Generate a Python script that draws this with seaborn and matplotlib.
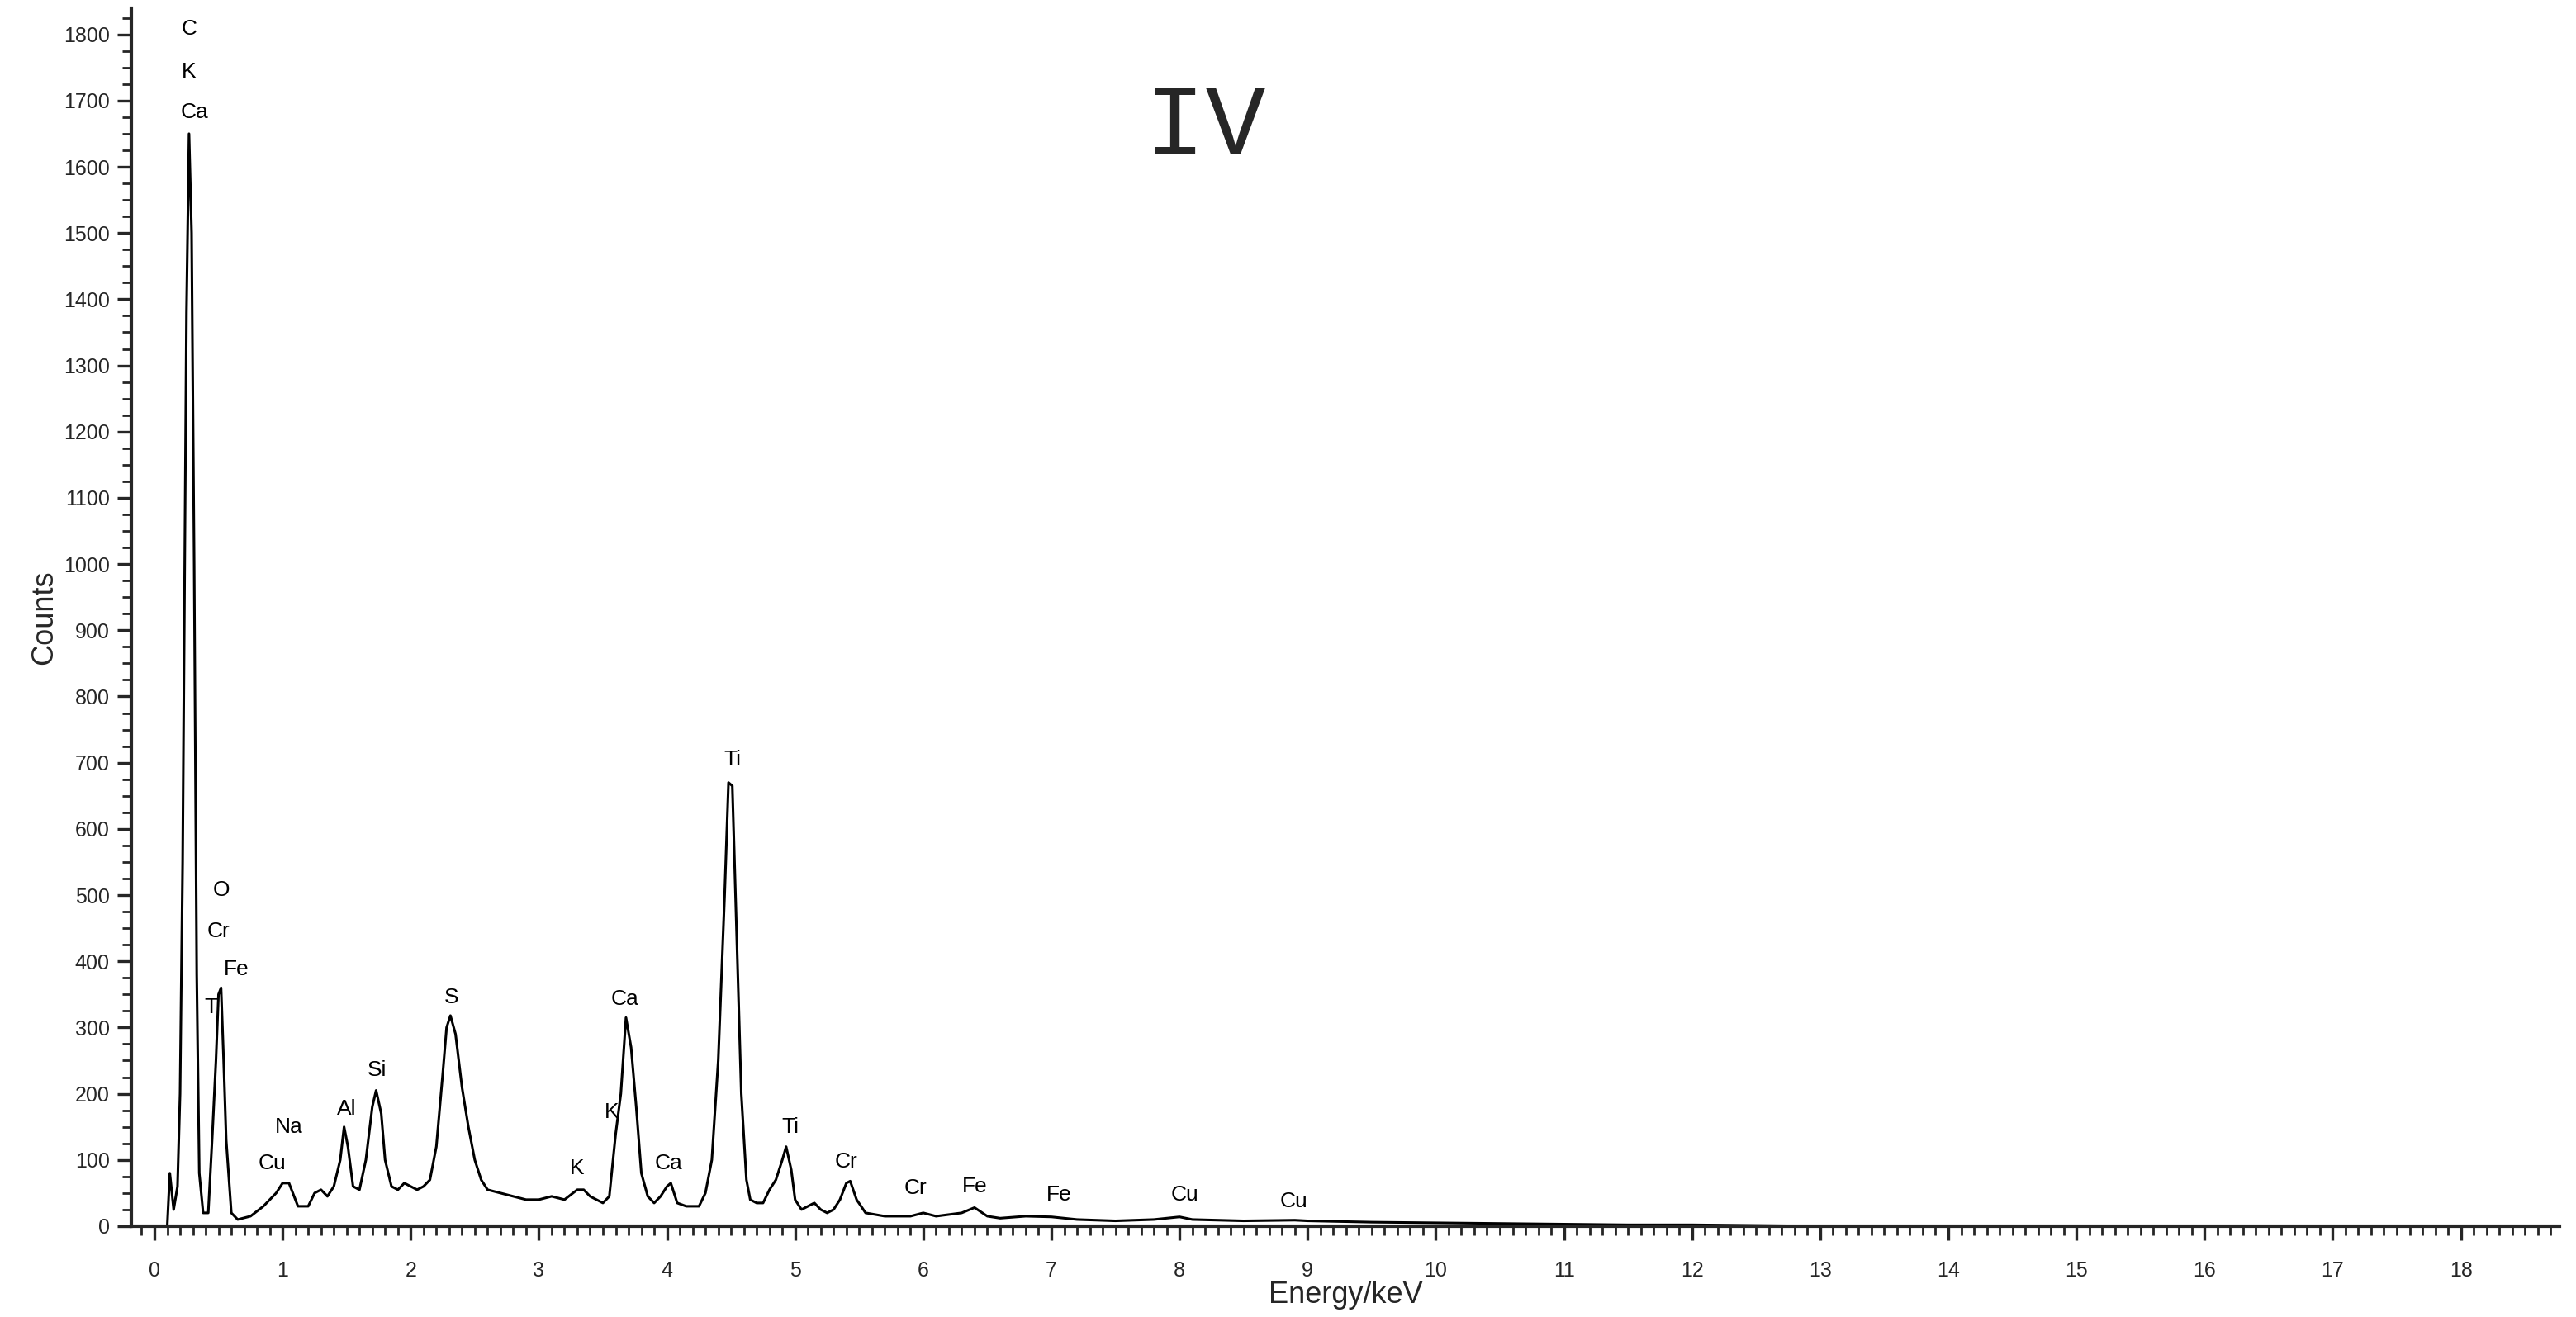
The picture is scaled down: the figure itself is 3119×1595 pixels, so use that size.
import numpy as np
import pandas as pd
import matplotlib
matplotlib.use("Agg")
import matplotlib.pyplot as plt
import seaborn as sns
from matplotlib.ticker import MultipleLocator

# spectrum (keV, counts)
energy = [0.10, 0.12, 0.15, 0.18, 0.20, 0.22, 0.25, 0.27, 0.29, 0.31, 0.33, 0.35, 0.38, 0.42, 0.45, 0.48,
          0.50, 0.52, 0.54, 0.56, 0.60, 0.65, 0.75, 0.85, 0.95, 1.00, 1.05, 1.12, 1.20, 1.25, 1.30, 1.35,
          1.40, 1.45, 1.48, 1.51, 1.55, 1.60, 1.65, 1.70, 1.73, 1.77, 1.80, 1.85, 1.90, 1.95, 2.00, 2.05,
          2.10, 2.15, 2.20, 2.25, 2.28, 2.31, 2.35, 2.40, 2.45, 2.50, 2.55, 2.60, 2.70, 2.80, 2.90, 3.00,
          3.10, 3.20, 3.30, 3.35, 3.40, 3.50, 3.55, 3.60, 3.64, 3.68, 3.72, 3.76, 3.80, 3.85, 3.90, 3.95,
          4.00, 4.03, 4.08, 4.15, 4.25, 4.30, 4.35, 4.40, 4.45, 4.48, 4.51, 4.55, 4.58, 4.62, 4.65, 4.70,
          4.75, 4.80, 4.85, 4.90, 4.93, 4.97, 5.00, 5.05, 5.10, 5.15, 5.20, 5.25, 5.30, 5.35, 5.40, 5.43,
          5.48, 5.55, 5.70, 5.90, 6.00, 6.10, 6.30, 6.40, 6.50, 6.60, 6.80, 7.00, 7.20, 7.50, 7.80, 8.00,
          8.10, 8.50, 8.90, 9.00, 9.50, 10.00, 10.50, 11.00, 11.50, 12.00, 12.50, 13.00, 18.77]
counts = [0, 80, 25, 60, 200, 550, 1380, 1650, 1500, 1000, 380, 80, 20, 20, 130, 250,
          350, 360, 250, 130, 20, 10, 15, 30, 50, 65, 65, 30, 30, 50, 55, 45,
          60, 100, 150, 120, 60, 55, 100, 180, 205, 170, 100, 60, 55, 65, 60, 55,
          60, 70, 120, 230, 300, 318, 290, 210, 150, 100, 70, 55, 50, 45, 40, 40,
          45, 40, 55, 55, 45, 35, 45, 140, 200, 315, 270, 180, 80, 45, 35, 45,
          60, 65, 35, 30, 30, 50, 100, 250, 500, 670, 665, 400, 200, 70, 40, 35,
          35, 55, 70, 100, 120, 85, 40, 25, 30, 35, 25, 20, 25, 40, 65, 68,
          40, 20, 15, 15, 20, 15, 20, 28, 15, 12, 15, 14, 10, 8, 10, 14,
          10, 8, 9, 8, 6, 5, 4, 3, 2, 2, 1, 0, 0]

# peak labels
labelText = ["C", "K", "Ca", "O", "Cr", "Fe", "T", "S", "Na", "Cu", "Al", "Si", "K", "K", "Ca", "Ca",
             "Ti", "Ti", "Cr", "Cr", "Fe", "Fe", "Cu", "Cu"]
labelX = [0.27, 0.27, 0.31, 0.52, 0.50, 0.64, 0.44, 2.32, 1.05, 0.92, 1.50, 1.74, 3.30, 3.57, 3.67, 4.01,
          4.51, 4.96, 5.40, 5.94, 6.40, 7.06, 8.04, 8.89]
labelY = [1808, 1744, 1682, 507, 445, 388, 331, 346, 149, 95, 177, 236, 87, 172, 343, 95,
          704, 149, 97, 57, 60, 47, 47, 37]

spec = pd.DataFrame({"Energy": energy, "Counts": counts})

sns.set_style("ticks")
plt.rcParams['font.family'] = ['Liberation Sans', 'DejaVu Sans']
fig = plt.figure(figsize=(15.595, 7.975), dpi=200)
ax = fig.add_axes([0.051, 0.069, 0.9426, 0.925])
sns.lineplot(data=spec, x="Energy", y="Counts", ax=ax, color="black", linewidth=1.1,
             estimator=None)

for t, x, y in zip(labelText, labelX, labelY):
    ax.text(x, y, t, ha="center", va="center", fontsize=9.5, color="black")
ax.text(8.2, 1659, "IV", ha="center", va="center", fontsize=44, family="Liberation Mono")

ax.set_xlim(-0.18, 18.77)
ax.set_ylim(0, 1840)
ax.xaxis.set_major_locator(MultipleLocator(1))
ax.xaxis.set_minor_locator(MultipleLocator(0.1))
ax.yaxis.set_major_locator(MultipleLocator(100))
ax.yaxis.set_minor_locator(MultipleLocator(25))
ax.tick_params(which="major", length=6, width=1.2, labelsize=9)
ax.tick_params(which="minor", length=4, width=1.0)
ax.tick_params(axis="x", which="major", pad=9)
for s in ["left", "bottom"]:
    ax.spines[s].set_linewidth(1.5)
sns.despine(ax=ax)
ax.set_xlabel("Energy/keV", fontsize=13, labelpad=0)
ax.set_ylabel("Counts", fontsize=13, labelpad=2)

fig.savefig("out.png", dpi=200)
